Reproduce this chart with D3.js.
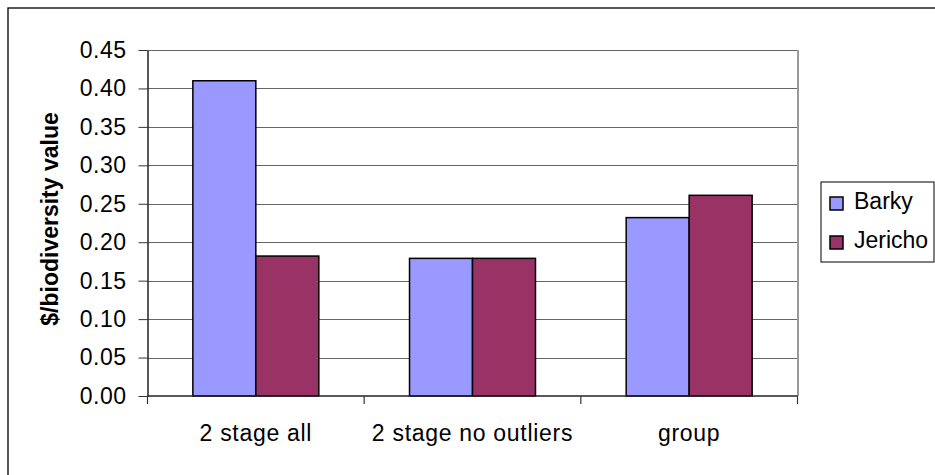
<!DOCTYPE html>
<html>
<head>
<meta charset="utf-8">
<script src="https://cdn.jsdelivr.net/npm/d3@7"></script>
<style>
  html, body { margin: 0; padding: 0; background: #fff; }
  svg { display: block; font-family: "Liberation Sans", Arial, sans-serif; }
</style>
</head>
<body>
<svg id="chart" width="935" height="475"></svg>
<script>
// Cost per unit of biodiversity value, by method and site
const categories = ["2 stage all", "2 stage no outliers", "group"];
const seriesNames = ["Barky", "Jericho"];
const barky = [0.41, 0.179, 0.232];
const jericho = [0.182, 0.179, 0.261];
const yTicks = [0, 0.05, 0.10, 0.15, 0.20, 0.25, 0.30, 0.35, 0.40, 0.45];
const colors = ["#9999FF", "#993366"];

const svg = d3.select("#chart");
const plot = { left: 147.5, right: 797.5, top: 50, bottom: 396 };

// chart frame (runs off the right and bottom edges)
svg.append("rect")
  .attr("x", 8).attr("y", 8).attr("width", 940).attr("height", 480)
  .attr("fill", "#fff").attr("stroke", "#000").attr("stroke-width", 1.3);

const x = d3.scaleBand().domain(categories).range([plot.left, plot.right]).paddingInner(0).paddingOuter(0);
const xs = d3.scaleBand().domain(seriesNames).range([0, x.bandwidth()]).paddingInner(0).paddingOuter(0.72);
const y = d3.scaleLinear().domain([0, 0.45]).range([plot.bottom, plot.top]);

// horizontal gridlines
svg.append("g").selectAll("line").data(yTicks.filter(d => d > 0)).join("line")
  .attr("x1", plot.left).attr("x2", plot.right)
  .attr("y1", d => Math.round(y(d)) + 0.5).attr("y2", d => Math.round(y(d)) + 0.5)
  .attr("stroke", "#666").attr("stroke-width", 1.1);

// plot-area right border
svg.append("line")
  .attr("x1", plot.right + 0.5).attr("x2", plot.right + 0.5)
  .attr("y1", plot.top).attr("y2", plot.bottom)
  .attr("stroke", "#9a9a9a").attr("stroke-width", 2);

// bars
const rows = categories.map((c, i) => ({ cat: c, values: [barky[i], jericho[i]] }));
const groups = svg.append("g").selectAll("g").data(rows).join("g")
  .attr("transform", d => `translate(${x(d.cat)},0)`);
groups.selectAll("rect").data(d => d.values.map((v, j) => ({ name: seriesNames[j], v, j })))
  .join("rect")
  .attr("x", d => xs(d.name))
  .attr("width", xs.bandwidth())
  .attr("y", d => y(d.v))
  .attr("height", d => y(0) - y(d.v))
  .attr("fill", d => colors[d.j])
  .attr("stroke", "#000").attr("stroke-width", 1.5);

// y axis
const yAxis = d3.axisLeft(y).tickValues(yTicks).tickFormat(d3.format(".2f")).tickSizeInner(9).tickSizeOuter(0).tickPadding(12);
const gy = svg.append("g").attr("transform", `translate(${plot.left},0)`).call(yAxis);
gy.select(".domain").attr("stroke", "#222").attr("stroke-width", 1.5);
gy.selectAll(".tick line").attr("stroke", "#333");
gy.selectAll(".tick text").attr("font-size", 23).attr("fill", "#000")
  .attr("letter-spacing", 0.5)
  .attr("font-family", "Liberation Sans, Arial, sans-serif");

// x axis baseline and category ticks at band boundaries
svg.append("line")
  .attr("x1", plot.left).attr("x2", plot.right)
  .attr("y1", plot.bottom).attr("y2", plot.bottom)
  .attr("stroke", "#222").attr("stroke-width", 1.5);
const bounds = categories.map(c => x(c)).concat([plot.right]);
svg.append("g").selectAll("line").data(bounds).join("line")
  .attr("x1", d => d).attr("x2", d => d)
  .attr("y1", plot.bottom).attr("y2", plot.bottom + 8)
  .attr("stroke", "#333").attr("stroke-width", 1.2);
svg.append("g").selectAll("text").data(categories).join("text")
  .attr("x", d => x(d) + x.bandwidth() / 2)
  .attr("y", 441)
  .attr("text-anchor", "middle")
  .attr("font-size", 23)
  .attr("letter-spacing", 0.7)
  .attr("fill", "#000")
  .text(d => d);

// y axis title
svg.append("text")
  .attr("transform", "translate(58,219) rotate(-90)")
  .attr("text-anchor", "middle")
  .attr("font-size", 23)
  .attr("font-weight", "bold")
  .attr("fill", "#000")
  .text("$/biodiversity value");

// legend
const lg = svg.append("g");
lg.append("rect")
  .attr("x", 821).attr("y", 182).attr("width", 113).attr("height", 80)
  .attr("fill", "#fff").attr("stroke", "#000").attr("stroke-width", 1);
const items = lg.selectAll("g.item").data(seriesNames).join("g").attr("class", "item")
  .attr("transform", (d, i) => `translate(830,${197 + i * 39})`);
items.append("rect")
  .attr("width", 13).attr("height", 13)
  .attr("fill", (d, i) => colors[i])
  .attr("stroke", "#000").attr("stroke-width", 1.5);
items.append("text")
  .attr("x", 24).attr("y", 12)
  .attr("font-size", 23).attr("fill", "#000")
  .text(d => d);
</script>
</body>
</html>
